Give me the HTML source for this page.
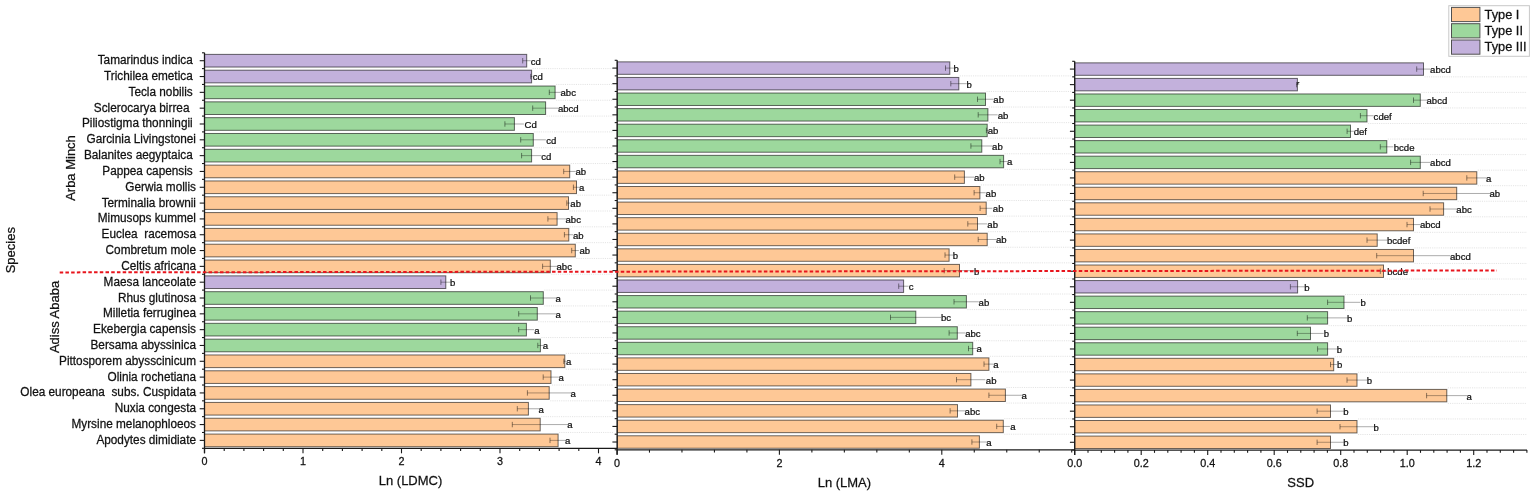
<!DOCTYPE html><html><head><meta charset="utf-8"><style>
html,body{margin:0;padding:0;background:#fff;width:1535px;height:495px;overflow:hidden}
svg{display:block}
text{font-family:"Liberation Sans",Arial,sans-serif;fill:#111;stroke:#111;stroke-width:0.25px;white-space:pre}
.sp{font-size:11.8px}.lt{font-size:9.6px}.tk{font-size:10.8px}.ti{font-size:13px}.lg{font-size:12.8px}
</style></head><body>
<svg width="1535" height="495" viewBox="0 0 1535 495">
<rect x="0" y="0" width="1535" height="495" fill="#fff"/>
<line x1="532.6" y1="68.62" x2="613.5" y2="68.62" stroke="#dcdcdc" stroke-width="0.8" stroke-dasharray="1.1 1.1"/>
<line x1="556.1" y1="84.44" x2="613.5" y2="84.44" stroke="#dcdcdc" stroke-width="0.8" stroke-dasharray="1.1 1.1"/>
<line x1="556.1" y1="100.26" x2="613.5" y2="100.26" stroke="#dcdcdc" stroke-width="0.8" stroke-dasharray="1.1 1.1"/>
<line x1="546.6" y1="116.08" x2="613.5" y2="116.08" stroke="#dcdcdc" stroke-width="0.8" stroke-dasharray="1.1 1.1"/>
<line x1="534.3" y1="131.9" x2="613.5" y2="131.9" stroke="#dcdcdc" stroke-width="0.8" stroke-dasharray="1.1 1.1"/>
<line x1="534.3" y1="147.72" x2="613.5" y2="147.72" stroke="#dcdcdc" stroke-width="0.8" stroke-dasharray="1.1 1.1"/>
<line x1="570.7" y1="163.54" x2="613.5" y2="163.54" stroke="#dcdcdc" stroke-width="0.8" stroke-dasharray="1.1 1.1"/>
<line x1="577.5" y1="179.36" x2="613.5" y2="179.36" stroke="#dcdcdc" stroke-width="0.8" stroke-dasharray="1.1 1.1"/>
<line x1="577.5" y1="195.18" x2="613.5" y2="195.18" stroke="#dcdcdc" stroke-width="0.8" stroke-dasharray="1.1 1.1"/>
<line x1="569.5" y1="211" x2="613.5" y2="211" stroke="#dcdcdc" stroke-width="0.8" stroke-dasharray="1.1 1.1"/>
<line x1="569.8" y1="226.82" x2="613.5" y2="226.82" stroke="#dcdcdc" stroke-width="0.8" stroke-dasharray="1.1 1.1"/>
<line x1="576.3" y1="242.64" x2="613.5" y2="242.64" stroke="#dcdcdc" stroke-width="0.8" stroke-dasharray="1.1 1.1"/>
<line x1="576.3" y1="258.46" x2="613.5" y2="258.46" stroke="#dcdcdc" stroke-width="0.8" stroke-dasharray="1.1 1.1"/>
<line x1="551.3" y1="274.28" x2="613.5" y2="274.28" stroke="#dcdcdc" stroke-width="0.8" stroke-dasharray="1.1 1.1"/>
<line x1="544.3" y1="290.1" x2="613.5" y2="290.1" stroke="#dcdcdc" stroke-width="0.8" stroke-dasharray="1.1 1.1"/>
<line x1="544.3" y1="305.92" x2="613.5" y2="305.92" stroke="#dcdcdc" stroke-width="0.8" stroke-dasharray="1.1 1.1"/>
<line x1="538.3" y1="321.74" x2="613.5" y2="321.74" stroke="#dcdcdc" stroke-width="0.8" stroke-dasharray="1.1 1.1"/>
<line x1="541.4" y1="337.56" x2="613.5" y2="337.56" stroke="#dcdcdc" stroke-width="0.8" stroke-dasharray="1.1 1.1"/>
<line x1="565.8" y1="353.38" x2="613.5" y2="353.38" stroke="#dcdcdc" stroke-width="0.8" stroke-dasharray="1.1 1.1"/>
<line x1="565.8" y1="369.2" x2="613.5" y2="369.2" stroke="#dcdcdc" stroke-width="0.8" stroke-dasharray="1.1 1.1"/>
<line x1="552" y1="385.02" x2="613.5" y2="385.02" stroke="#dcdcdc" stroke-width="0.8" stroke-dasharray="1.1 1.1"/>
<line x1="550.2" y1="400.84" x2="613.5" y2="400.84" stroke="#dcdcdc" stroke-width="0.8" stroke-dasharray="1.1 1.1"/>
<line x1="541.2" y1="416.66" x2="613.5" y2="416.66" stroke="#dcdcdc" stroke-width="0.8" stroke-dasharray="1.1 1.1"/>
<line x1="559.1" y1="432.48" x2="613.5" y2="432.48" stroke="#dcdcdc" stroke-width="0.8" stroke-dasharray="1.1 1.1"/>
<rect x="204.5" y="54.38" width="322.2" height="12.66" fill="#c3b1dc" stroke="rgba(0,0,0,0.58)" stroke-width="1"/>
<rect x="204.5" y="70.2" width="327.1" height="12.66" fill="#c3b1dc" stroke="rgba(0,0,0,0.58)" stroke-width="1"/>
<rect x="204.5" y="86.02" width="350.6" height="12.66" fill="#9dd89d" stroke="rgba(0,0,0,0.58)" stroke-width="1"/>
<rect x="204.5" y="101.84" width="341.1" height="12.66" fill="#9dd89d" stroke="rgba(0,0,0,0.58)" stroke-width="1"/>
<rect x="204.5" y="117.66" width="309.9" height="12.66" fill="#9dd89d" stroke="rgba(0,0,0,0.58)" stroke-width="1"/>
<rect x="204.5" y="133.48" width="328.8" height="12.66" fill="#9dd89d" stroke="rgba(0,0,0,0.58)" stroke-width="1"/>
<rect x="204.5" y="149.3" width="327.1" height="12.66" fill="#9dd89d" stroke="rgba(0,0,0,0.58)" stroke-width="1"/>
<rect x="204.5" y="165.12" width="365.2" height="12.66" fill="#fec896" stroke="rgba(0,0,0,0.58)" stroke-width="1"/>
<rect x="204.5" y="180.94" width="372" height="12.66" fill="#fec896" stroke="rgba(0,0,0,0.58)" stroke-width="1"/>
<rect x="204.5" y="196.76" width="364" height="12.66" fill="#fec896" stroke="rgba(0,0,0,0.58)" stroke-width="1"/>
<rect x="204.5" y="212.58" width="352.6" height="12.66" fill="#fec896" stroke="rgba(0,0,0,0.58)" stroke-width="1"/>
<rect x="204.5" y="228.4" width="364.3" height="12.66" fill="#fec896" stroke="rgba(0,0,0,0.58)" stroke-width="1"/>
<rect x="204.5" y="244.22" width="370.8" height="12.66" fill="#fec896" stroke="rgba(0,0,0,0.58)" stroke-width="1"/>
<rect x="204.5" y="260.04" width="345.8" height="12.66" fill="#fec896" stroke="rgba(0,0,0,0.58)" stroke-width="1"/>
<rect x="204.5" y="275.86" width="241.3" height="12.66" fill="#c3b1dc" stroke="rgba(0,0,0,0.58)" stroke-width="1"/>
<rect x="204.5" y="291.68" width="338.8" height="12.66" fill="#9dd89d" stroke="rgba(0,0,0,0.58)" stroke-width="1"/>
<rect x="204.5" y="307.5" width="332.8" height="12.66" fill="#9dd89d" stroke="rgba(0,0,0,0.58)" stroke-width="1"/>
<rect x="204.5" y="323.32" width="321.9" height="12.66" fill="#9dd89d" stroke="rgba(0,0,0,0.58)" stroke-width="1"/>
<rect x="204.5" y="339.14" width="335.9" height="12.66" fill="#9dd89d" stroke="rgba(0,0,0,0.58)" stroke-width="1"/>
<rect x="204.5" y="354.96" width="360.3" height="12.66" fill="#fec896" stroke="rgba(0,0,0,0.58)" stroke-width="1"/>
<rect x="204.5" y="370.78" width="346.5" height="12.66" fill="#fec896" stroke="rgba(0,0,0,0.58)" stroke-width="1"/>
<rect x="204.5" y="386.6" width="344.7" height="12.66" fill="#fec896" stroke="rgba(0,0,0,0.58)" stroke-width="1"/>
<rect x="204.5" y="402.42" width="323.9" height="12.66" fill="#fec896" stroke="rgba(0,0,0,0.58)" stroke-width="1"/>
<rect x="204.5" y="418.24" width="335.7" height="12.66" fill="#fec896" stroke="rgba(0,0,0,0.58)" stroke-width="1"/>
<rect x="204.5" y="434.06" width="353.6" height="12.66" fill="#fec896" stroke="rgba(0,0,0,0.58)" stroke-width="1"/>
<line x1="522.7" y1="60.71" x2="530.7" y2="60.71" stroke="rgba(0,0,0,0.33)" stroke-width="1"/>
<line x1="522.7" y1="58.01" x2="522.7" y2="63.41" stroke="rgba(0,0,0,0.45)" stroke-width="1"/>
<text class="lt" transform="translate(530.8,64.61) scale(1,0.92)">cd</text>
<line x1="530.7" y1="76.53" x2="532.5" y2="76.53" stroke="rgba(0,0,0,0.33)" stroke-width="1"/>
<line x1="530.7" y1="73.83" x2="530.7" y2="79.23" stroke="rgba(0,0,0,0.45)" stroke-width="1"/>
<text class="lt" transform="translate(532.8,80.43) scale(1,0.92)">cd</text>
<line x1="549.3" y1="92.35" x2="560.9" y2="92.35" stroke="rgba(0,0,0,0.33)" stroke-width="1"/>
<line x1="549.3" y1="89.65" x2="549.3" y2="95.05" stroke="rgba(0,0,0,0.45)" stroke-width="1"/>
<text class="lt" transform="translate(560.5,96.25) scale(1,0.92)">abc</text>
<line x1="532.7" y1="108.17" x2="558.5" y2="108.17" stroke="rgba(0,0,0,0.33)" stroke-width="1"/>
<line x1="532.7" y1="105.47" x2="532.7" y2="110.87" stroke="rgba(0,0,0,0.45)" stroke-width="1"/>
<text class="lt" transform="translate(557.9,112.07) scale(1,0.92)">abcd</text>
<line x1="504.9" y1="123.99" x2="523.9" y2="123.99" stroke="rgba(0,0,0,0.33)" stroke-width="1"/>
<line x1="504.9" y1="121.29" x2="504.9" y2="126.69" stroke="rgba(0,0,0,0.45)" stroke-width="1"/>
<text class="lt" transform="translate(524.5,127.89) scale(1,0.92)">Cd</text>
<line x1="520.7" y1="139.81" x2="545.9" y2="139.81" stroke="rgba(0,0,0,0.33)" stroke-width="1"/>
<line x1="520.7" y1="137.11" x2="520.7" y2="142.51" stroke="rgba(0,0,0,0.45)" stroke-width="1"/>
<text class="lt" transform="translate(546.3,143.71) scale(1,0.92)">cd</text>
<line x1="521.6" y1="155.63" x2="541.6" y2="155.63" stroke="rgba(0,0,0,0.33)" stroke-width="1"/>
<line x1="521.6" y1="152.93" x2="521.6" y2="158.33" stroke="rgba(0,0,0,0.45)" stroke-width="1"/>
<text class="lt" transform="translate(541.2,159.53) scale(1,0.92)">cd</text>
<line x1="563.7" y1="171.45" x2="575.7" y2="171.45" stroke="rgba(0,0,0,0.33)" stroke-width="1"/>
<line x1="563.7" y1="168.75" x2="563.7" y2="174.15" stroke="rgba(0,0,0,0.45)" stroke-width="1"/>
<text class="lt" transform="translate(575.4,175.35) scale(1,0.92)">ab</text>
<line x1="573.4" y1="187.27" x2="579.6" y2="187.27" stroke="rgba(0,0,0,0.33)" stroke-width="1"/>
<line x1="573.4" y1="184.57" x2="573.4" y2="189.97" stroke="rgba(0,0,0,0.45)" stroke-width="1"/>
<text class="lt" transform="translate(579.1,191.17) scale(1,0.92)">a</text>
<line x1="566.8" y1="203.09" x2="570.2" y2="203.09" stroke="rgba(0,0,0,0.33)" stroke-width="1"/>
<line x1="566.8" y1="200.39" x2="566.8" y2="205.79" stroke="rgba(0,0,0,0.45)" stroke-width="1"/>
<text class="lt" transform="translate(570.3,206.99) scale(1,0.92)">ab</text>
<line x1="547.9" y1="218.91" x2="566.3" y2="218.91" stroke="rgba(0,0,0,0.33)" stroke-width="1"/>
<line x1="547.9" y1="216.21" x2="547.9" y2="221.61" stroke="rgba(0,0,0,0.45)" stroke-width="1"/>
<text class="lt" transform="translate(565.5,222.81) scale(1,0.92)">abc</text>
<line x1="564.4" y1="234.73" x2="573.2" y2="234.73" stroke="rgba(0,0,0,0.33)" stroke-width="1"/>
<line x1="564.4" y1="232.03" x2="564.4" y2="237.43" stroke="rgba(0,0,0,0.45)" stroke-width="1"/>
<text class="lt" transform="translate(573,238.63) scale(1,0.92)">ab</text>
<line x1="571.7" y1="250.55" x2="578.9" y2="250.55" stroke="rgba(0,0,0,0.33)" stroke-width="1"/>
<line x1="571.7" y1="247.85" x2="571.7" y2="253.25" stroke="rgba(0,0,0,0.45)" stroke-width="1"/>
<text class="lt" transform="translate(579.5,254.45) scale(1,0.92)">ab</text>
<line x1="542.6" y1="266.37" x2="558" y2="266.37" stroke="rgba(0,0,0,0.33)" stroke-width="1"/>
<line x1="542.6" y1="263.67" x2="542.6" y2="269.07" stroke="rgba(0,0,0,0.45)" stroke-width="1"/>
<text class="lt" transform="translate(556.5,270.27) scale(1,0.92)">abc</text>
<line x1="440.9" y1="282.19" x2="450.7" y2="282.19" stroke="rgba(0,0,0,0.33)" stroke-width="1"/>
<line x1="440.9" y1="279.49" x2="440.9" y2="284.89" stroke="rgba(0,0,0,0.45)" stroke-width="1"/>
<text class="lt" transform="translate(450.1,286.09) scale(1,0.92)">b</text>
<line x1="530.5" y1="298.01" x2="556.1" y2="298.01" stroke="rgba(0,0,0,0.33)" stroke-width="1"/>
<line x1="530.5" y1="295.31" x2="530.5" y2="300.71" stroke="rgba(0,0,0,0.45)" stroke-width="1"/>
<text class="lt" transform="translate(555.6,301.91) scale(1,0.92)">a</text>
<line x1="518.7" y1="313.83" x2="555.9" y2="313.83" stroke="rgba(0,0,0,0.33)" stroke-width="1"/>
<line x1="518.7" y1="311.13" x2="518.7" y2="316.53" stroke="rgba(0,0,0,0.45)" stroke-width="1"/>
<text class="lt" transform="translate(555.6,317.73) scale(1,0.92)">a</text>
<line x1="518.7" y1="329.65" x2="534.1" y2="329.65" stroke="rgba(0,0,0,0.33)" stroke-width="1"/>
<line x1="518.7" y1="326.95" x2="518.7" y2="332.35" stroke="rgba(0,0,0,0.45)" stroke-width="1"/>
<text class="lt" transform="translate(534.3,333.55) scale(1,0.92)">a</text>
<line x1="537.8" y1="345.47" x2="543" y2="345.47" stroke="rgba(0,0,0,0.33)" stroke-width="1"/>
<line x1="537.8" y1="342.77" x2="537.8" y2="348.17" stroke="rgba(0,0,0,0.45)" stroke-width="1"/>
<text class="lt" transform="translate(542.8,349.37) scale(1,0.92)">a</text>
<line x1="563.8" y1="361.29" x2="565.8" y2="361.29" stroke="rgba(0,0,0,0.33)" stroke-width="1"/>
<line x1="563.8" y1="358.59" x2="563.8" y2="363.99" stroke="rgba(0,0,0,0.45)" stroke-width="1"/>
<text class="lt" transform="translate(565.9,365.19) scale(1,0.92)">a</text>
<line x1="543.2" y1="377.11" x2="558.8" y2="377.11" stroke="rgba(0,0,0,0.33)" stroke-width="1"/>
<line x1="543.2" y1="374.41" x2="543.2" y2="379.81" stroke="rgba(0,0,0,0.45)" stroke-width="1"/>
<text class="lt" transform="translate(558.4,381.01) scale(1,0.92)">a</text>
<line x1="527.4" y1="392.93" x2="571" y2="392.93" stroke="rgba(0,0,0,0.33)" stroke-width="1"/>
<line x1="527.4" y1="390.23" x2="527.4" y2="395.63" stroke="rgba(0,0,0,0.45)" stroke-width="1"/>
<text class="lt" transform="translate(570.5,396.83) scale(1,0.92)">a</text>
<line x1="517.3" y1="408.75" x2="539.5" y2="408.75" stroke="rgba(0,0,0,0.33)" stroke-width="1"/>
<line x1="517.3" y1="406.05" x2="517.3" y2="411.45" stroke="rgba(0,0,0,0.45)" stroke-width="1"/>
<text class="lt" transform="translate(538.6,412.65) scale(1,0.92)">a</text>
<line x1="512.3" y1="424.57" x2="568.1" y2="424.57" stroke="rgba(0,0,0,0.33)" stroke-width="1"/>
<line x1="512.3" y1="421.87" x2="512.3" y2="427.27" stroke="rgba(0,0,0,0.45)" stroke-width="1"/>
<text class="lt" transform="translate(567.3,428.47) scale(1,0.92)">a</text>
<line x1="550" y1="440.39" x2="566.2" y2="440.39" stroke="rgba(0,0,0,0.33)" stroke-width="1"/>
<line x1="550" y1="437.69" x2="550" y2="443.09" stroke="rgba(0,0,0,0.45)" stroke-width="1"/>
<text class="lt" transform="translate(564.9,444.29) scale(1,0.92)">a</text>
<line x1="204.5" y1="52.8" x2="204.5" y2="453.3" stroke="#1a1a1a" stroke-width="1.3"/>
<line x1="202" y1="52.8" x2="204.5" y2="52.8" stroke="#1a1a1a" stroke-width="1.1"/>
<line x1="202" y1="68.62" x2="204.5" y2="68.62" stroke="#1a1a1a" stroke-width="1.1"/>
<line x1="202" y1="84.44" x2="204.5" y2="84.44" stroke="#1a1a1a" stroke-width="1.1"/>
<line x1="202" y1="100.26" x2="204.5" y2="100.26" stroke="#1a1a1a" stroke-width="1.1"/>
<line x1="202" y1="116.08" x2="204.5" y2="116.08" stroke="#1a1a1a" stroke-width="1.1"/>
<line x1="202" y1="131.9" x2="204.5" y2="131.9" stroke="#1a1a1a" stroke-width="1.1"/>
<line x1="202" y1="147.72" x2="204.5" y2="147.72" stroke="#1a1a1a" stroke-width="1.1"/>
<line x1="202" y1="163.54" x2="204.5" y2="163.54" stroke="#1a1a1a" stroke-width="1.1"/>
<line x1="202" y1="179.36" x2="204.5" y2="179.36" stroke="#1a1a1a" stroke-width="1.1"/>
<line x1="202" y1="195.18" x2="204.5" y2="195.18" stroke="#1a1a1a" stroke-width="1.1"/>
<line x1="202" y1="211" x2="204.5" y2="211" stroke="#1a1a1a" stroke-width="1.1"/>
<line x1="202" y1="226.82" x2="204.5" y2="226.82" stroke="#1a1a1a" stroke-width="1.1"/>
<line x1="202" y1="242.64" x2="204.5" y2="242.64" stroke="#1a1a1a" stroke-width="1.1"/>
<line x1="202" y1="258.46" x2="204.5" y2="258.46" stroke="#1a1a1a" stroke-width="1.1"/>
<line x1="202" y1="274.28" x2="204.5" y2="274.28" stroke="#1a1a1a" stroke-width="1.1"/>
<line x1="202" y1="290.1" x2="204.5" y2="290.1" stroke="#1a1a1a" stroke-width="1.1"/>
<line x1="202" y1="305.92" x2="204.5" y2="305.92" stroke="#1a1a1a" stroke-width="1.1"/>
<line x1="202" y1="321.74" x2="204.5" y2="321.74" stroke="#1a1a1a" stroke-width="1.1"/>
<line x1="202" y1="337.56" x2="204.5" y2="337.56" stroke="#1a1a1a" stroke-width="1.1"/>
<line x1="202" y1="353.38" x2="204.5" y2="353.38" stroke="#1a1a1a" stroke-width="1.1"/>
<line x1="202" y1="369.2" x2="204.5" y2="369.2" stroke="#1a1a1a" stroke-width="1.1"/>
<line x1="202" y1="385.02" x2="204.5" y2="385.02" stroke="#1a1a1a" stroke-width="1.1"/>
<line x1="202" y1="400.84" x2="204.5" y2="400.84" stroke="#1a1a1a" stroke-width="1.1"/>
<line x1="202" y1="416.66" x2="204.5" y2="416.66" stroke="#1a1a1a" stroke-width="1.1"/>
<line x1="202" y1="432.48" x2="204.5" y2="432.48" stroke="#1a1a1a" stroke-width="1.1"/>
<line x1="202" y1="448.3" x2="204.5" y2="448.3" stroke="#1a1a1a" stroke-width="1.1"/>
<line x1="199.7" y1="60.71" x2="204.5" y2="60.71" stroke="#1a1a1a" stroke-width="1.1"/>
<line x1="199.7" y1="76.53" x2="204.5" y2="76.53" stroke="#1a1a1a" stroke-width="1.1"/>
<line x1="199.7" y1="92.35" x2="204.5" y2="92.35" stroke="#1a1a1a" stroke-width="1.1"/>
<line x1="199.7" y1="108.17" x2="204.5" y2="108.17" stroke="#1a1a1a" stroke-width="1.1"/>
<line x1="199.7" y1="123.99" x2="204.5" y2="123.99" stroke="#1a1a1a" stroke-width="1.1"/>
<line x1="199.7" y1="139.81" x2="204.5" y2="139.81" stroke="#1a1a1a" stroke-width="1.1"/>
<line x1="199.7" y1="155.63" x2="204.5" y2="155.63" stroke="#1a1a1a" stroke-width="1.1"/>
<line x1="199.7" y1="171.45" x2="204.5" y2="171.45" stroke="#1a1a1a" stroke-width="1.1"/>
<line x1="199.7" y1="187.27" x2="204.5" y2="187.27" stroke="#1a1a1a" stroke-width="1.1"/>
<line x1="199.7" y1="203.09" x2="204.5" y2="203.09" stroke="#1a1a1a" stroke-width="1.1"/>
<line x1="199.7" y1="218.91" x2="204.5" y2="218.91" stroke="#1a1a1a" stroke-width="1.1"/>
<line x1="199.7" y1="234.73" x2="204.5" y2="234.73" stroke="#1a1a1a" stroke-width="1.1"/>
<line x1="199.7" y1="250.55" x2="204.5" y2="250.55" stroke="#1a1a1a" stroke-width="1.1"/>
<line x1="199.7" y1="266.37" x2="204.5" y2="266.37" stroke="#1a1a1a" stroke-width="1.1"/>
<line x1="199.7" y1="282.19" x2="204.5" y2="282.19" stroke="#1a1a1a" stroke-width="1.1"/>
<line x1="199.7" y1="298.01" x2="204.5" y2="298.01" stroke="#1a1a1a" stroke-width="1.1"/>
<line x1="199.7" y1="313.83" x2="204.5" y2="313.83" stroke="#1a1a1a" stroke-width="1.1"/>
<line x1="199.7" y1="329.65" x2="204.5" y2="329.65" stroke="#1a1a1a" stroke-width="1.1"/>
<line x1="199.7" y1="345.47" x2="204.5" y2="345.47" stroke="#1a1a1a" stroke-width="1.1"/>
<line x1="199.7" y1="361.29" x2="204.5" y2="361.29" stroke="#1a1a1a" stroke-width="1.1"/>
<line x1="199.7" y1="377.11" x2="204.5" y2="377.11" stroke="#1a1a1a" stroke-width="1.1"/>
<line x1="199.7" y1="392.93" x2="204.5" y2="392.93" stroke="#1a1a1a" stroke-width="1.1"/>
<line x1="199.7" y1="408.75" x2="204.5" y2="408.75" stroke="#1a1a1a" stroke-width="1.1"/>
<line x1="199.7" y1="424.57" x2="204.5" y2="424.57" stroke="#1a1a1a" stroke-width="1.1"/>
<line x1="199.7" y1="440.39" x2="204.5" y2="440.39" stroke="#1a1a1a" stroke-width="1.1"/>
<line x1="204.5" y1="448.3" x2="617" y2="448.3" stroke="#1a1a1a" stroke-width="1.3"/>
<line x1="204.5" y1="448.3" x2="204.5" y2="453.3" stroke="#1a1a1a" stroke-width="1.1"/>
<text class="tk" transform="translate(204.5,465.1) scale(1,1.038)" text-anchor="middle">0</text>
<line x1="303" y1="448.3" x2="303" y2="453.3" stroke="#1a1a1a" stroke-width="1.1"/>
<text class="tk" transform="translate(303,465.1) scale(1,1.038)" text-anchor="middle">1</text>
<line x1="401.5" y1="448.3" x2="401.5" y2="453.3" stroke="#1a1a1a" stroke-width="1.1"/>
<text class="tk" transform="translate(401.5,465.1) scale(1,1.038)" text-anchor="middle">2</text>
<line x1="500" y1="448.3" x2="500" y2="453.3" stroke="#1a1a1a" stroke-width="1.1"/>
<text class="tk" transform="translate(500,465.1) scale(1,1.038)" text-anchor="middle">3</text>
<line x1="598.5" y1="448.3" x2="598.5" y2="453.3" stroke="#1a1a1a" stroke-width="1.1"/>
<text class="tk" transform="translate(598.5,465.1) scale(1,1.038)" text-anchor="middle">4</text>
<line x1="224.2" y1="448.3" x2="224.2" y2="451.1" stroke="#1a1a1a" stroke-width="1.1"/>
<line x1="243.9" y1="448.3" x2="243.9" y2="451.1" stroke="#1a1a1a" stroke-width="1.1"/>
<line x1="263.6" y1="448.3" x2="263.6" y2="451.1" stroke="#1a1a1a" stroke-width="1.1"/>
<line x1="283.3" y1="448.3" x2="283.3" y2="451.1" stroke="#1a1a1a" stroke-width="1.1"/>
<line x1="322.7" y1="448.3" x2="322.7" y2="451.1" stroke="#1a1a1a" stroke-width="1.1"/>
<line x1="342.4" y1="448.3" x2="342.4" y2="451.1" stroke="#1a1a1a" stroke-width="1.1"/>
<line x1="362.1" y1="448.3" x2="362.1" y2="451.1" stroke="#1a1a1a" stroke-width="1.1"/>
<line x1="381.8" y1="448.3" x2="381.8" y2="451.1" stroke="#1a1a1a" stroke-width="1.1"/>
<line x1="421.2" y1="448.3" x2="421.2" y2="451.1" stroke="#1a1a1a" stroke-width="1.1"/>
<line x1="440.9" y1="448.3" x2="440.9" y2="451.1" stroke="#1a1a1a" stroke-width="1.1"/>
<line x1="460.6" y1="448.3" x2="460.6" y2="451.1" stroke="#1a1a1a" stroke-width="1.1"/>
<line x1="480.3" y1="448.3" x2="480.3" y2="451.1" stroke="#1a1a1a" stroke-width="1.1"/>
<line x1="519.7" y1="448.3" x2="519.7" y2="451.1" stroke="#1a1a1a" stroke-width="1.1"/>
<line x1="539.4" y1="448.3" x2="539.4" y2="451.1" stroke="#1a1a1a" stroke-width="1.1"/>
<line x1="559.1" y1="448.3" x2="559.1" y2="451.1" stroke="#1a1a1a" stroke-width="1.1"/>
<line x1="578.8" y1="448.3" x2="578.8" y2="451.1" stroke="#1a1a1a" stroke-width="1.1"/>
<text class="ti" transform="translate(410.5,485) scale(1,1.038)" text-anchor="middle">Ln (LDMC)</text>
<line x1="959.8" y1="75.88" x2="1072" y2="75.88" stroke="#dcdcdc" stroke-width="0.8" stroke-dasharray="1.1 1.1"/>
<line x1="986.5" y1="91.46" x2="1072" y2="91.46" stroke="#dcdcdc" stroke-width="0.8" stroke-dasharray="1.1 1.1"/>
<line x1="988.9" y1="107.04" x2="1072" y2="107.04" stroke="#dcdcdc" stroke-width="0.8" stroke-dasharray="1.1 1.1"/>
<line x1="988.9" y1="122.62" x2="1072" y2="122.62" stroke="#dcdcdc" stroke-width="0.8" stroke-dasharray="1.1 1.1"/>
<line x1="988.2" y1="138.2" x2="1072" y2="138.2" stroke="#dcdcdc" stroke-width="0.8" stroke-dasharray="1.1 1.1"/>
<line x1="1004.6" y1="153.78" x2="1072" y2="153.78" stroke="#dcdcdc" stroke-width="0.8" stroke-dasharray="1.1 1.1"/>
<line x1="1004.6" y1="169.36" x2="1072" y2="169.36" stroke="#dcdcdc" stroke-width="0.8" stroke-dasharray="1.1 1.1"/>
<line x1="980.9" y1="184.94" x2="1072" y2="184.94" stroke="#dcdcdc" stroke-width="0.8" stroke-dasharray="1.1 1.1"/>
<line x1="987.2" y1="200.52" x2="1072" y2="200.52" stroke="#dcdcdc" stroke-width="0.8" stroke-dasharray="1.1 1.1"/>
<line x1="987.2" y1="216.1" x2="1072" y2="216.1" stroke="#dcdcdc" stroke-width="0.8" stroke-dasharray="1.1 1.1"/>
<line x1="988.2" y1="231.68" x2="1072" y2="231.68" stroke="#dcdcdc" stroke-width="0.8" stroke-dasharray="1.1 1.1"/>
<line x1="988.2" y1="247.26" x2="1072" y2="247.26" stroke="#dcdcdc" stroke-width="0.8" stroke-dasharray="1.1 1.1"/>
<line x1="960.5" y1="262.84" x2="1072" y2="262.84" stroke="#dcdcdc" stroke-width="0.8" stroke-dasharray="1.1 1.1"/>
<line x1="960.5" y1="278.42" x2="1072" y2="278.42" stroke="#dcdcdc" stroke-width="0.8" stroke-dasharray="1.1 1.1"/>
<line x1="967.4" y1="294" x2="1072" y2="294" stroke="#dcdcdc" stroke-width="0.8" stroke-dasharray="1.1 1.1"/>
<line x1="967.4" y1="309.58" x2="1072" y2="309.58" stroke="#dcdcdc" stroke-width="0.8" stroke-dasharray="1.1 1.1"/>
<line x1="958.3" y1="325.16" x2="1072" y2="325.16" stroke="#dcdcdc" stroke-width="0.8" stroke-dasharray="1.1 1.1"/>
<line x1="973.7" y1="340.74" x2="1072" y2="340.74" stroke="#dcdcdc" stroke-width="0.8" stroke-dasharray="1.1 1.1"/>
<line x1="989.9" y1="356.32" x2="1072" y2="356.32" stroke="#dcdcdc" stroke-width="0.8" stroke-dasharray="1.1 1.1"/>
<line x1="989.9" y1="371.9" x2="1072" y2="371.9" stroke="#dcdcdc" stroke-width="0.8" stroke-dasharray="1.1 1.1"/>
<line x1="1006.4" y1="387.48" x2="1072" y2="387.48" stroke="#dcdcdc" stroke-width="0.8" stroke-dasharray="1.1 1.1"/>
<line x1="1006.4" y1="403.06" x2="1072" y2="403.06" stroke="#dcdcdc" stroke-width="0.8" stroke-dasharray="1.1 1.1"/>
<line x1="1004.3" y1="418.64" x2="1072" y2="418.64" stroke="#dcdcdc" stroke-width="0.8" stroke-dasharray="1.1 1.1"/>
<line x1="1004.3" y1="434.22" x2="1072" y2="434.22" stroke="#dcdcdc" stroke-width="0.8" stroke-dasharray="1.1 1.1"/>
<rect x="617.2" y="61.86" width="332.6" height="12.46" fill="#c3b1dc" stroke="rgba(0,0,0,0.58)" stroke-width="1"/>
<rect x="617.2" y="77.44" width="341.6" height="12.46" fill="#c3b1dc" stroke="rgba(0,0,0,0.58)" stroke-width="1"/>
<rect x="617.2" y="93.02" width="368.3" height="12.46" fill="#9dd89d" stroke="rgba(0,0,0,0.58)" stroke-width="1"/>
<rect x="617.2" y="108.6" width="370.7" height="12.46" fill="#9dd89d" stroke="rgba(0,0,0,0.58)" stroke-width="1"/>
<rect x="617.2" y="124.18" width="370" height="12.46" fill="#9dd89d" stroke="rgba(0,0,0,0.58)" stroke-width="1"/>
<rect x="617.2" y="139.76" width="364.6" height="12.46" fill="#9dd89d" stroke="rgba(0,0,0,0.58)" stroke-width="1"/>
<rect x="617.2" y="155.34" width="386.4" height="12.46" fill="#9dd89d" stroke="rgba(0,0,0,0.58)" stroke-width="1"/>
<rect x="617.2" y="170.92" width="347.2" height="12.46" fill="#fec896" stroke="rgba(0,0,0,0.58)" stroke-width="1"/>
<rect x="617.2" y="186.5" width="362.7" height="12.46" fill="#fec896" stroke="rgba(0,0,0,0.58)" stroke-width="1"/>
<rect x="617.2" y="202.08" width="369" height="12.46" fill="#fec896" stroke="rgba(0,0,0,0.58)" stroke-width="1"/>
<rect x="617.2" y="217.66" width="360.3" height="12.46" fill="#fec896" stroke="rgba(0,0,0,0.58)" stroke-width="1"/>
<rect x="617.2" y="233.24" width="370" height="12.46" fill="#fec896" stroke="rgba(0,0,0,0.58)" stroke-width="1"/>
<rect x="617.2" y="248.82" width="331.9" height="12.46" fill="#fec896" stroke="rgba(0,0,0,0.58)" stroke-width="1"/>
<rect x="617.2" y="264.4" width="342.3" height="12.46" fill="#fec896" stroke="rgba(0,0,0,0.58)" stroke-width="1"/>
<rect x="617.2" y="279.98" width="286.4" height="12.46" fill="#c3b1dc" stroke="rgba(0,0,0,0.58)" stroke-width="1"/>
<rect x="617.2" y="295.56" width="349.2" height="12.46" fill="#9dd89d" stroke="rgba(0,0,0,0.58)" stroke-width="1"/>
<rect x="617.2" y="311.14" width="298.6" height="12.46" fill="#9dd89d" stroke="rgba(0,0,0,0.58)" stroke-width="1"/>
<rect x="617.2" y="326.72" width="340.1" height="12.46" fill="#9dd89d" stroke="rgba(0,0,0,0.58)" stroke-width="1"/>
<rect x="617.2" y="342.3" width="355.5" height="12.46" fill="#9dd89d" stroke="rgba(0,0,0,0.58)" stroke-width="1"/>
<rect x="617.2" y="357.88" width="371.7" height="12.46" fill="#fec896" stroke="rgba(0,0,0,0.58)" stroke-width="1"/>
<rect x="617.2" y="373.46" width="353.7" height="12.46" fill="#fec896" stroke="rgba(0,0,0,0.58)" stroke-width="1"/>
<rect x="617.2" y="389.04" width="388.2" height="12.46" fill="#fec896" stroke="rgba(0,0,0,0.58)" stroke-width="1"/>
<rect x="617.2" y="404.62" width="340.3" height="12.46" fill="#fec896" stroke="rgba(0,0,0,0.58)" stroke-width="1"/>
<rect x="617.2" y="420.2" width="386.1" height="12.46" fill="#fec896" stroke="rgba(0,0,0,0.58)" stroke-width="1"/>
<rect x="617.2" y="435.78" width="362.2" height="12.46" fill="#fec896" stroke="rgba(0,0,0,0.58)" stroke-width="1"/>
<line x1="945.5" y1="68.09" x2="954.1" y2="68.09" stroke="rgba(0,0,0,0.33)" stroke-width="1"/>
<line x1="945.5" y1="65.39" x2="945.5" y2="70.79" stroke="rgba(0,0,0,0.45)" stroke-width="1"/>
<text class="lt" transform="translate(953.6,71.99) scale(1,0.92)">b</text>
<line x1="950.8" y1="83.67" x2="966.8" y2="83.67" stroke="rgba(0,0,0,0.33)" stroke-width="1"/>
<line x1="950.8" y1="80.97" x2="950.8" y2="86.37" stroke="rgba(0,0,0,0.45)" stroke-width="1"/>
<text class="lt" transform="translate(966.6,87.57) scale(1,0.92)">b</text>
<line x1="977.5" y1="99.25" x2="993.5" y2="99.25" stroke="rgba(0,0,0,0.33)" stroke-width="1"/>
<line x1="977.5" y1="96.55" x2="977.5" y2="101.95" stroke="rgba(0,0,0,0.45)" stroke-width="1"/>
<text class="lt" transform="translate(993.3,103.15) scale(1,0.92)">ab</text>
<line x1="978.2" y1="114.83" x2="997.6" y2="114.83" stroke="rgba(0,0,0,0.33)" stroke-width="1"/>
<line x1="978.2" y1="112.13" x2="978.2" y2="117.53" stroke="rgba(0,0,0,0.45)" stroke-width="1"/>
<text class="lt" transform="translate(997.7,118.73) scale(1,0.92)">ab</text>
<line x1="986.4" y1="130.41" x2="988" y2="130.41" stroke="rgba(0,0,0,0.33)" stroke-width="1"/>
<line x1="986.4" y1="127.71" x2="986.4" y2="133.11" stroke="rgba(0,0,0,0.45)" stroke-width="1"/>
<text class="lt" transform="translate(987.7,134.31) scale(1,0.92)">ab</text>
<line x1="970.9" y1="145.99" x2="992.7" y2="145.99" stroke="rgba(0,0,0,0.33)" stroke-width="1"/>
<line x1="970.9" y1="143.29" x2="970.9" y2="148.69" stroke="rgba(0,0,0,0.45)" stroke-width="1"/>
<text class="lt" transform="translate(992.1,149.89) scale(1,0.92)">ab</text>
<line x1="1000" y1="161.57" x2="1007.2" y2="161.57" stroke="rgba(0,0,0,0.33)" stroke-width="1"/>
<line x1="1000" y1="158.87" x2="1000" y2="164.27" stroke="rgba(0,0,0,0.45)" stroke-width="1"/>
<text class="lt" transform="translate(1006.9,165.47) scale(1,0.92)">a</text>
<line x1="954.7" y1="177.15" x2="974.1" y2="177.15" stroke="rgba(0,0,0,0.33)" stroke-width="1"/>
<line x1="954.7" y1="174.45" x2="954.7" y2="179.85" stroke="rgba(0,0,0,0.45)" stroke-width="1"/>
<text class="lt" transform="translate(973.9,181.05) scale(1,0.92)">ab</text>
<line x1="974.1" y1="192.73" x2="985.7" y2="192.73" stroke="rgba(0,0,0,0.33)" stroke-width="1"/>
<line x1="974.1" y1="190.03" x2="974.1" y2="195.43" stroke="rgba(0,0,0,0.45)" stroke-width="1"/>
<text class="lt" transform="translate(985.6,196.63) scale(1,0.92)">ab</text>
<line x1="980.1" y1="208.31" x2="992.3" y2="208.31" stroke="rgba(0,0,0,0.33)" stroke-width="1"/>
<line x1="980.1" y1="205.61" x2="980.1" y2="211.01" stroke="rgba(0,0,0,0.45)" stroke-width="1"/>
<text class="lt" transform="translate(992.8,212.21) scale(1,0.92)">ab</text>
<line x1="967.8" y1="223.89" x2="987.2" y2="223.89" stroke="rgba(0,0,0,0.33)" stroke-width="1"/>
<line x1="967.8" y1="221.19" x2="967.8" y2="226.59" stroke="rgba(0,0,0,0.45)" stroke-width="1"/>
<text class="lt" transform="translate(987.3,227.79) scale(1,0.92)">ab</text>
<line x1="978.2" y1="239.47" x2="996.2" y2="239.47" stroke="rgba(0,0,0,0.33)" stroke-width="1"/>
<line x1="978.2" y1="236.77" x2="978.2" y2="242.17" stroke="rgba(0,0,0,0.45)" stroke-width="1"/>
<text class="lt" transform="translate(996,243.37) scale(1,0.92)">ab</text>
<line x1="945" y1="255.05" x2="953.2" y2="255.05" stroke="rgba(0,0,0,0.33)" stroke-width="1"/>
<line x1="945" y1="252.35" x2="945" y2="257.75" stroke="rgba(0,0,0,0.45)" stroke-width="1"/>
<text class="lt" transform="translate(952.8,258.95) scale(1,0.92)">b</text>
<line x1="944.2" y1="270.63" x2="974.8" y2="270.63" stroke="rgba(0,0,0,0.33)" stroke-width="1"/>
<line x1="944.2" y1="267.93" x2="944.2" y2="273.33" stroke="rgba(0,0,0,0.45)" stroke-width="1"/>
<text class="lt" transform="translate(973.9,274.53) scale(1,0.92)">b</text>
<line x1="898.7" y1="286.21" x2="908.5" y2="286.21" stroke="rgba(0,0,0,0.33)" stroke-width="1"/>
<line x1="898.7" y1="283.51" x2="898.7" y2="288.91" stroke="rgba(0,0,0,0.45)" stroke-width="1"/>
<text class="lt" transform="translate(908.8,290.11) scale(1,0.92)">c</text>
<line x1="954" y1="301.79" x2="978.8" y2="301.79" stroke="rgba(0,0,0,0.33)" stroke-width="1"/>
<line x1="954" y1="299.09" x2="954" y2="304.49" stroke="rgba(0,0,0,0.45)" stroke-width="1"/>
<text class="lt" transform="translate(978.6,305.69) scale(1,0.92)">ab</text>
<line x1="890.5" y1="317.37" x2="941.1" y2="317.37" stroke="rgba(0,0,0,0.33)" stroke-width="1"/>
<line x1="890.5" y1="314.67" x2="890.5" y2="320.07" stroke="rgba(0,0,0,0.45)" stroke-width="1"/>
<text class="lt" transform="translate(941,321.27) scale(1,0.92)">bc</text>
<line x1="949.1" y1="332.95" x2="965.5" y2="332.95" stroke="rgba(0,0,0,0.33)" stroke-width="1"/>
<line x1="949.1" y1="330.25" x2="949.1" y2="335.65" stroke="rgba(0,0,0,0.45)" stroke-width="1"/>
<text class="lt" transform="translate(965.2,336.85) scale(1,0.92)">abc</text>
<line x1="968.5" y1="348.53" x2="976.9" y2="348.53" stroke="rgba(0,0,0,0.33)" stroke-width="1"/>
<line x1="968.5" y1="345.83" x2="968.5" y2="351.23" stroke="rgba(0,0,0,0.45)" stroke-width="1"/>
<text class="lt" transform="translate(976.5,352.43) scale(1,0.92)">a</text>
<line x1="984" y1="364.11" x2="993.8" y2="364.11" stroke="rgba(0,0,0,0.33)" stroke-width="1"/>
<line x1="984" y1="361.41" x2="984" y2="366.81" stroke="rgba(0,0,0,0.45)" stroke-width="1"/>
<text class="lt" transform="translate(993.2,368.01) scale(1,0.92)">a</text>
<line x1="956.5" y1="379.69" x2="985.3" y2="379.69" stroke="rgba(0,0,0,0.33)" stroke-width="1"/>
<line x1="956.5" y1="376.99" x2="956.5" y2="382.39" stroke="rgba(0,0,0,0.45)" stroke-width="1"/>
<text class="lt" transform="translate(985.8,383.59) scale(1,0.92)">ab</text>
<line x1="988.9" y1="395.27" x2="1021.9" y2="395.27" stroke="rgba(0,0,0,0.33)" stroke-width="1"/>
<line x1="988.9" y1="392.57" x2="988.9" y2="397.97" stroke="rgba(0,0,0,0.45)" stroke-width="1"/>
<text class="lt" transform="translate(1021.4,399.17) scale(1,0.92)">a</text>
<line x1="950.1" y1="410.85" x2="964.9" y2="410.85" stroke="rgba(0,0,0,0.33)" stroke-width="1"/>
<line x1="950.1" y1="408.15" x2="950.1" y2="413.55" stroke="rgba(0,0,0,0.45)" stroke-width="1"/>
<text class="lt" transform="translate(964.6,414.75) scale(1,0.92)">abc</text>
<line x1="996.7" y1="426.43" x2="1009.9" y2="426.43" stroke="rgba(0,0,0,0.33)" stroke-width="1"/>
<line x1="996.7" y1="423.73" x2="996.7" y2="429.13" stroke="rgba(0,0,0,0.45)" stroke-width="1"/>
<text class="lt" transform="translate(1010.2,430.33) scale(1,0.92)">a</text>
<line x1="971.9" y1="442.01" x2="986.9" y2="442.01" stroke="rgba(0,0,0,0.33)" stroke-width="1"/>
<line x1="971.9" y1="439.31" x2="971.9" y2="444.71" stroke="rgba(0,0,0,0.45)" stroke-width="1"/>
<text class="lt" transform="translate(986.2,445.91) scale(1,0.92)">a</text>
<line x1="617.2" y1="60.3" x2="617.2" y2="454.8" stroke="#1a1a1a" stroke-width="1.3"/>
<line x1="614.7" y1="60.3" x2="617.2" y2="60.3" stroke="#1a1a1a" stroke-width="1.1"/>
<line x1="614.7" y1="75.88" x2="617.2" y2="75.88" stroke="#1a1a1a" stroke-width="1.1"/>
<line x1="614.7" y1="91.46" x2="617.2" y2="91.46" stroke="#1a1a1a" stroke-width="1.1"/>
<line x1="614.7" y1="107.04" x2="617.2" y2="107.04" stroke="#1a1a1a" stroke-width="1.1"/>
<line x1="614.7" y1="122.62" x2="617.2" y2="122.62" stroke="#1a1a1a" stroke-width="1.1"/>
<line x1="614.7" y1="138.2" x2="617.2" y2="138.2" stroke="#1a1a1a" stroke-width="1.1"/>
<line x1="614.7" y1="153.78" x2="617.2" y2="153.78" stroke="#1a1a1a" stroke-width="1.1"/>
<line x1="614.7" y1="169.36" x2="617.2" y2="169.36" stroke="#1a1a1a" stroke-width="1.1"/>
<line x1="614.7" y1="184.94" x2="617.2" y2="184.94" stroke="#1a1a1a" stroke-width="1.1"/>
<line x1="614.7" y1="200.52" x2="617.2" y2="200.52" stroke="#1a1a1a" stroke-width="1.1"/>
<line x1="614.7" y1="216.1" x2="617.2" y2="216.1" stroke="#1a1a1a" stroke-width="1.1"/>
<line x1="614.7" y1="231.68" x2="617.2" y2="231.68" stroke="#1a1a1a" stroke-width="1.1"/>
<line x1="614.7" y1="247.26" x2="617.2" y2="247.26" stroke="#1a1a1a" stroke-width="1.1"/>
<line x1="614.7" y1="262.84" x2="617.2" y2="262.84" stroke="#1a1a1a" stroke-width="1.1"/>
<line x1="614.7" y1="278.42" x2="617.2" y2="278.42" stroke="#1a1a1a" stroke-width="1.1"/>
<line x1="614.7" y1="294" x2="617.2" y2="294" stroke="#1a1a1a" stroke-width="1.1"/>
<line x1="614.7" y1="309.58" x2="617.2" y2="309.58" stroke="#1a1a1a" stroke-width="1.1"/>
<line x1="614.7" y1="325.16" x2="617.2" y2="325.16" stroke="#1a1a1a" stroke-width="1.1"/>
<line x1="614.7" y1="340.74" x2="617.2" y2="340.74" stroke="#1a1a1a" stroke-width="1.1"/>
<line x1="614.7" y1="356.32" x2="617.2" y2="356.32" stroke="#1a1a1a" stroke-width="1.1"/>
<line x1="614.7" y1="371.9" x2="617.2" y2="371.9" stroke="#1a1a1a" stroke-width="1.1"/>
<line x1="614.7" y1="387.48" x2="617.2" y2="387.48" stroke="#1a1a1a" stroke-width="1.1"/>
<line x1="614.7" y1="403.06" x2="617.2" y2="403.06" stroke="#1a1a1a" stroke-width="1.1"/>
<line x1="614.7" y1="418.64" x2="617.2" y2="418.64" stroke="#1a1a1a" stroke-width="1.1"/>
<line x1="614.7" y1="434.22" x2="617.2" y2="434.22" stroke="#1a1a1a" stroke-width="1.1"/>
<line x1="614.7" y1="449.8" x2="617.2" y2="449.8" stroke="#1a1a1a" stroke-width="1.1"/>
<line x1="612.4" y1="68.09" x2="617.2" y2="68.09" stroke="#1a1a1a" stroke-width="1.1"/>
<line x1="612.4" y1="83.67" x2="617.2" y2="83.67" stroke="#1a1a1a" stroke-width="1.1"/>
<line x1="612.4" y1="99.25" x2="617.2" y2="99.25" stroke="#1a1a1a" stroke-width="1.1"/>
<line x1="612.4" y1="114.83" x2="617.2" y2="114.83" stroke="#1a1a1a" stroke-width="1.1"/>
<line x1="612.4" y1="130.41" x2="617.2" y2="130.41" stroke="#1a1a1a" stroke-width="1.1"/>
<line x1="612.4" y1="145.99" x2="617.2" y2="145.99" stroke="#1a1a1a" stroke-width="1.1"/>
<line x1="612.4" y1="161.57" x2="617.2" y2="161.57" stroke="#1a1a1a" stroke-width="1.1"/>
<line x1="612.4" y1="177.15" x2="617.2" y2="177.15" stroke="#1a1a1a" stroke-width="1.1"/>
<line x1="612.4" y1="192.73" x2="617.2" y2="192.73" stroke="#1a1a1a" stroke-width="1.1"/>
<line x1="612.4" y1="208.31" x2="617.2" y2="208.31" stroke="#1a1a1a" stroke-width="1.1"/>
<line x1="612.4" y1="223.89" x2="617.2" y2="223.89" stroke="#1a1a1a" stroke-width="1.1"/>
<line x1="612.4" y1="239.47" x2="617.2" y2="239.47" stroke="#1a1a1a" stroke-width="1.1"/>
<line x1="612.4" y1="255.05" x2="617.2" y2="255.05" stroke="#1a1a1a" stroke-width="1.1"/>
<line x1="612.4" y1="270.63" x2="617.2" y2="270.63" stroke="#1a1a1a" stroke-width="1.1"/>
<line x1="612.4" y1="286.21" x2="617.2" y2="286.21" stroke="#1a1a1a" stroke-width="1.1"/>
<line x1="612.4" y1="301.79" x2="617.2" y2="301.79" stroke="#1a1a1a" stroke-width="1.1"/>
<line x1="612.4" y1="317.37" x2="617.2" y2="317.37" stroke="#1a1a1a" stroke-width="1.1"/>
<line x1="612.4" y1="332.95" x2="617.2" y2="332.95" stroke="#1a1a1a" stroke-width="1.1"/>
<line x1="612.4" y1="348.53" x2="617.2" y2="348.53" stroke="#1a1a1a" stroke-width="1.1"/>
<line x1="612.4" y1="364.11" x2="617.2" y2="364.11" stroke="#1a1a1a" stroke-width="1.1"/>
<line x1="612.4" y1="379.69" x2="617.2" y2="379.69" stroke="#1a1a1a" stroke-width="1.1"/>
<line x1="612.4" y1="395.27" x2="617.2" y2="395.27" stroke="#1a1a1a" stroke-width="1.1"/>
<line x1="612.4" y1="410.85" x2="617.2" y2="410.85" stroke="#1a1a1a" stroke-width="1.1"/>
<line x1="612.4" y1="426.43" x2="617.2" y2="426.43" stroke="#1a1a1a" stroke-width="1.1"/>
<line x1="612.4" y1="442.01" x2="617.2" y2="442.01" stroke="#1a1a1a" stroke-width="1.1"/>
<line x1="617.2" y1="449.8" x2="1074.5" y2="449.8" stroke="#1a1a1a" stroke-width="1.3"/>
<line x1="617" y1="449.8" x2="617" y2="454.8" stroke="#1a1a1a" stroke-width="1.1"/>
<text class="tk" transform="translate(617,466.9) scale(1,1.038)" text-anchor="middle">0</text>
<line x1="779.4" y1="449.8" x2="779.4" y2="454.8" stroke="#1a1a1a" stroke-width="1.1"/>
<text class="tk" transform="translate(779.4,466.9) scale(1,1.038)" text-anchor="middle">2</text>
<line x1="941.8" y1="449.8" x2="941.8" y2="454.8" stroke="#1a1a1a" stroke-width="1.1"/>
<text class="tk" transform="translate(941.8,466.9) scale(1,1.038)" text-anchor="middle">4</text>
<line x1="649.48" y1="449.8" x2="649.48" y2="452.6" stroke="#1a1a1a" stroke-width="1.1"/>
<line x1="681.96" y1="449.8" x2="681.96" y2="452.6" stroke="#1a1a1a" stroke-width="1.1"/>
<line x1="714.44" y1="449.8" x2="714.44" y2="452.6" stroke="#1a1a1a" stroke-width="1.1"/>
<line x1="746.92" y1="449.8" x2="746.92" y2="452.6" stroke="#1a1a1a" stroke-width="1.1"/>
<line x1="811.88" y1="449.8" x2="811.88" y2="452.6" stroke="#1a1a1a" stroke-width="1.1"/>
<line x1="844.36" y1="449.8" x2="844.36" y2="452.6" stroke="#1a1a1a" stroke-width="1.1"/>
<line x1="876.84" y1="449.8" x2="876.84" y2="452.6" stroke="#1a1a1a" stroke-width="1.1"/>
<line x1="909.32" y1="449.8" x2="909.32" y2="452.6" stroke="#1a1a1a" stroke-width="1.1"/>
<line x1="974.28" y1="449.8" x2="974.28" y2="452.6" stroke="#1a1a1a" stroke-width="1.1"/>
<line x1="1006.76" y1="449.8" x2="1006.76" y2="452.6" stroke="#1a1a1a" stroke-width="1.1"/>
<line x1="1039.24" y1="449.8" x2="1039.24" y2="452.6" stroke="#1a1a1a" stroke-width="1.1"/>
<line x1="1071.72" y1="449.8" x2="1071.72" y2="452.6" stroke="#1a1a1a" stroke-width="1.1"/>
<text class="ti" transform="translate(844.4,486.8) scale(1,1.038)" text-anchor="middle">Ln (LMA)</text>
<line x1="1424.5" y1="76.85" x2="1527" y2="76.85" stroke="#dcdcdc" stroke-width="0.8" stroke-dasharray="1.1 1.1"/>
<line x1="1421.3" y1="92.4" x2="1527" y2="92.4" stroke="#dcdcdc" stroke-width="0.8" stroke-dasharray="1.1 1.1"/>
<line x1="1421.3" y1="107.95" x2="1527" y2="107.95" stroke="#dcdcdc" stroke-width="0.8" stroke-dasharray="1.1 1.1"/>
<line x1="1368" y1="123.5" x2="1527" y2="123.5" stroke="#dcdcdc" stroke-width="0.8" stroke-dasharray="1.1 1.1"/>
<line x1="1387.8" y1="139.05" x2="1527" y2="139.05" stroke="#dcdcdc" stroke-width="0.8" stroke-dasharray="1.1 1.1"/>
<line x1="1421.3" y1="154.6" x2="1527" y2="154.6" stroke="#dcdcdc" stroke-width="0.8" stroke-dasharray="1.1 1.1"/>
<line x1="1477.8" y1="170.15" x2="1527" y2="170.15" stroke="#dcdcdc" stroke-width="0.8" stroke-dasharray="1.1 1.1"/>
<line x1="1477.8" y1="185.7" x2="1527" y2="185.7" stroke="#dcdcdc" stroke-width="0.8" stroke-dasharray="1.1 1.1"/>
<line x1="1457.7" y1="201.25" x2="1527" y2="201.25" stroke="#dcdcdc" stroke-width="0.8" stroke-dasharray="1.1 1.1"/>
<line x1="1444.6" y1="216.8" x2="1527" y2="216.8" stroke="#dcdcdc" stroke-width="0.8" stroke-dasharray="1.1 1.1"/>
<line x1="1414.5" y1="232.35" x2="1527" y2="232.35" stroke="#dcdcdc" stroke-width="0.8" stroke-dasharray="1.1 1.1"/>
<line x1="1414.5" y1="247.9" x2="1527" y2="247.9" stroke="#dcdcdc" stroke-width="0.8" stroke-dasharray="1.1 1.1"/>
<line x1="1414.5" y1="263.45" x2="1527" y2="263.45" stroke="#dcdcdc" stroke-width="0.8" stroke-dasharray="1.1 1.1"/>
<line x1="1384.5" y1="279" x2="1527" y2="279" stroke="#dcdcdc" stroke-width="0.8" stroke-dasharray="1.1 1.1"/>
<line x1="1345" y1="294.55" x2="1527" y2="294.55" stroke="#dcdcdc" stroke-width="0.8" stroke-dasharray="1.1 1.1"/>
<line x1="1345" y1="310.1" x2="1527" y2="310.1" stroke="#dcdcdc" stroke-width="0.8" stroke-dasharray="1.1 1.1"/>
<line x1="1328.6" y1="325.65" x2="1527" y2="325.65" stroke="#dcdcdc" stroke-width="0.8" stroke-dasharray="1.1 1.1"/>
<line x1="1328.6" y1="341.2" x2="1527" y2="341.2" stroke="#dcdcdc" stroke-width="0.8" stroke-dasharray="1.1 1.1"/>
<line x1="1334.7" y1="356.75" x2="1527" y2="356.75" stroke="#dcdcdc" stroke-width="0.8" stroke-dasharray="1.1 1.1"/>
<line x1="1358" y1="372.3" x2="1527" y2="372.3" stroke="#dcdcdc" stroke-width="0.8" stroke-dasharray="1.1 1.1"/>
<line x1="1447.8" y1="387.85" x2="1527" y2="387.85" stroke="#dcdcdc" stroke-width="0.8" stroke-dasharray="1.1 1.1"/>
<line x1="1447.8" y1="403.4" x2="1527" y2="403.4" stroke="#dcdcdc" stroke-width="0.8" stroke-dasharray="1.1 1.1"/>
<line x1="1358" y1="418.95" x2="1527" y2="418.95" stroke="#dcdcdc" stroke-width="0.8" stroke-dasharray="1.1 1.1"/>
<line x1="1358" y1="434.5" x2="1527" y2="434.5" stroke="#dcdcdc" stroke-width="0.8" stroke-dasharray="1.1 1.1"/>
<rect x="1074.7" y="62.86" width="348.8" height="12.44" fill="#c3b1dc" stroke="rgba(0,0,0,0.58)" stroke-width="1"/>
<rect x="1074.7" y="78.41" width="222.7" height="12.44" fill="#c3b1dc" stroke="rgba(0,0,0,0.58)" stroke-width="1"/>
<rect x="1074.7" y="93.95" width="345.6" height="12.44" fill="#9dd89d" stroke="rgba(0,0,0,0.58)" stroke-width="1"/>
<rect x="1074.7" y="109.5" width="292.3" height="12.44" fill="#9dd89d" stroke="rgba(0,0,0,0.58)" stroke-width="1"/>
<rect x="1074.7" y="125.06" width="275.8" height="12.44" fill="#9dd89d" stroke="rgba(0,0,0,0.58)" stroke-width="1"/>
<rect x="1074.7" y="140.6" width="312.1" height="12.44" fill="#9dd89d" stroke="rgba(0,0,0,0.58)" stroke-width="1"/>
<rect x="1074.7" y="156.16" width="345.6" height="12.44" fill="#9dd89d" stroke="rgba(0,0,0,0.58)" stroke-width="1"/>
<rect x="1074.7" y="171.71" width="402.1" height="12.44" fill="#fec896" stroke="rgba(0,0,0,0.58)" stroke-width="1"/>
<rect x="1074.7" y="187.26" width="382" height="12.44" fill="#fec896" stroke="rgba(0,0,0,0.58)" stroke-width="1"/>
<rect x="1074.7" y="202.8" width="368.9" height="12.44" fill="#fec896" stroke="rgba(0,0,0,0.58)" stroke-width="1"/>
<rect x="1074.7" y="218.35" width="338.8" height="12.44" fill="#fec896" stroke="rgba(0,0,0,0.58)" stroke-width="1"/>
<rect x="1074.7" y="233.91" width="302.5" height="12.44" fill="#fec896" stroke="rgba(0,0,0,0.58)" stroke-width="1"/>
<rect x="1074.7" y="249.46" width="338.8" height="12.44" fill="#fec896" stroke="rgba(0,0,0,0.58)" stroke-width="1"/>
<rect x="1074.7" y="265" width="308.8" height="12.44" fill="#fec896" stroke="rgba(0,0,0,0.58)" stroke-width="1"/>
<rect x="1074.7" y="280.56" width="222.9" height="12.44" fill="#c3b1dc" stroke="rgba(0,0,0,0.58)" stroke-width="1"/>
<rect x="1074.7" y="296.1" width="269.3" height="12.44" fill="#9dd89d" stroke="rgba(0,0,0,0.58)" stroke-width="1"/>
<rect x="1074.7" y="311.65" width="252.9" height="12.44" fill="#9dd89d" stroke="rgba(0,0,0,0.58)" stroke-width="1"/>
<rect x="1074.7" y="327.2" width="235.8" height="12.44" fill="#9dd89d" stroke="rgba(0,0,0,0.58)" stroke-width="1"/>
<rect x="1074.7" y="342.75" width="252.9" height="12.44" fill="#9dd89d" stroke="rgba(0,0,0,0.58)" stroke-width="1"/>
<rect x="1074.7" y="358.31" width="259" height="12.44" fill="#fec896" stroke="rgba(0,0,0,0.58)" stroke-width="1"/>
<rect x="1074.7" y="373.86" width="282.3" height="12.44" fill="#fec896" stroke="rgba(0,0,0,0.58)" stroke-width="1"/>
<rect x="1074.7" y="389.4" width="372.1" height="12.44" fill="#fec896" stroke="rgba(0,0,0,0.58)" stroke-width="1"/>
<rect x="1074.7" y="404.95" width="255.8" height="12.44" fill="#fec896" stroke="rgba(0,0,0,0.58)" stroke-width="1"/>
<rect x="1074.7" y="420.5" width="282.3" height="12.44" fill="#fec896" stroke="rgba(0,0,0,0.58)" stroke-width="1"/>
<rect x="1074.7" y="436.06" width="255.8" height="12.44" fill="#fec896" stroke="rgba(0,0,0,0.58)" stroke-width="1"/>
<line x1="1416.7" y1="69.08" x2="1430.3" y2="69.08" stroke="rgba(0,0,0,0.33)" stroke-width="1"/>
<line x1="1416.7" y1="66.38" x2="1416.7" y2="71.78" stroke="rgba(0,0,0,0.45)" stroke-width="1"/>
<text class="lt" transform="translate(1430.1,72.98) scale(1,0.92)">abcd</text>
<line x1="1296.6" y1="84.62" x2="1298.2" y2="84.62" stroke="rgba(0,0,0,0.33)" stroke-width="1"/>
<line x1="1296.6" y1="81.92" x2="1296.6" y2="87.33" stroke="rgba(0,0,0,0.45)" stroke-width="1"/>
<clipPath id="fc"><rect x="1290" y="70" width="20" height="14.3"/></clipPath>
<g clip-path="url(#fc)"><text class="lt" transform="translate(1296.6,88.53) scale(1,0.92)">f</text></g>
<line x1="1413.5" y1="100.17" x2="1427.1" y2="100.17" stroke="rgba(0,0,0,0.33)" stroke-width="1"/>
<line x1="1413.5" y1="97.47" x2="1413.5" y2="102.88" stroke="rgba(0,0,0,0.45)" stroke-width="1"/>
<text class="lt" transform="translate(1426.5,104.08) scale(1,0.92)">abcd</text>
<line x1="1360.4" y1="115.72" x2="1373.6" y2="115.72" stroke="rgba(0,0,0,0.33)" stroke-width="1"/>
<line x1="1360.4" y1="113.02" x2="1360.4" y2="118.42" stroke="rgba(0,0,0,0.45)" stroke-width="1"/>
<text class="lt" transform="translate(1373.6,119.62) scale(1,0.92)">cdef</text>
<line x1="1347.1" y1="131.28" x2="1353.9" y2="131.28" stroke="rgba(0,0,0,0.33)" stroke-width="1"/>
<line x1="1347.1" y1="128.58" x2="1347.1" y2="133.97" stroke="rgba(0,0,0,0.45)" stroke-width="1"/>
<text class="lt" transform="translate(1353.7,135.18) scale(1,0.92)">def</text>
<line x1="1380.3" y1="146.82" x2="1393.3" y2="146.82" stroke="rgba(0,0,0,0.33)" stroke-width="1"/>
<line x1="1380.3" y1="144.12" x2="1380.3" y2="149.52" stroke="rgba(0,0,0,0.45)" stroke-width="1"/>
<text class="lt" transform="translate(1393.7,150.72) scale(1,0.92)">bcde</text>
<line x1="1410.6" y1="162.38" x2="1430" y2="162.38" stroke="rgba(0,0,0,0.33)" stroke-width="1"/>
<line x1="1410.6" y1="159.68" x2="1410.6" y2="165.07" stroke="rgba(0,0,0,0.45)" stroke-width="1"/>
<text class="lt" transform="translate(1430.1,166.28) scale(1,0.92)">abcd</text>
<line x1="1466.8" y1="177.93" x2="1486.8" y2="177.93" stroke="rgba(0,0,0,0.33)" stroke-width="1"/>
<line x1="1466.8" y1="175.23" x2="1466.8" y2="180.62" stroke="rgba(0,0,0,0.45)" stroke-width="1"/>
<text class="lt" transform="translate(1485.9,181.83) scale(1,0.92)">a</text>
<line x1="1423.2" y1="193.48" x2="1490.2" y2="193.48" stroke="rgba(0,0,0,0.33)" stroke-width="1"/>
<line x1="1423.2" y1="190.78" x2="1423.2" y2="196.18" stroke="rgba(0,0,0,0.45)" stroke-width="1"/>
<text class="lt" transform="translate(1489.5,197.38) scale(1,0.92)">ab</text>
<line x1="1430" y1="209.02" x2="1457.2" y2="209.02" stroke="rgba(0,0,0,0.33)" stroke-width="1"/>
<line x1="1430" y1="206.32" x2="1430" y2="211.72" stroke="rgba(0,0,0,0.45)" stroke-width="1"/>
<text class="lt" transform="translate(1456.3,212.92) scale(1,0.92)">abc</text>
<line x1="1407" y1="224.57" x2="1420" y2="224.57" stroke="rgba(0,0,0,0.33)" stroke-width="1"/>
<line x1="1407" y1="221.88" x2="1407" y2="227.27" stroke="rgba(0,0,0,0.45)" stroke-width="1"/>
<text class="lt" transform="translate(1419.9,228.47) scale(1,0.92)">abcd</text>
<line x1="1367" y1="240.12" x2="1387.4" y2="240.12" stroke="rgba(0,0,0,0.33)" stroke-width="1"/>
<line x1="1367" y1="237.43" x2="1367" y2="242.82" stroke="rgba(0,0,0,0.45)" stroke-width="1"/>
<text class="lt" transform="translate(1386.9,244.03) scale(1,0.92)">bcdef</text>
<line x1="1376.7" y1="255.68" x2="1450.3" y2="255.68" stroke="rgba(0,0,0,0.33)" stroke-width="1"/>
<line x1="1376.7" y1="252.98" x2="1376.7" y2="258.38" stroke="rgba(0,0,0,0.45)" stroke-width="1"/>
<text class="lt" transform="translate(1450,259.57) scale(1,0.92)">abcd</text>
<line x1="1380.3" y1="271.23" x2="1386.7" y2="271.23" stroke="rgba(0,0,0,0.33)" stroke-width="1"/>
<line x1="1380.3" y1="268.53" x2="1380.3" y2="273.93" stroke="rgba(0,0,0,0.45)" stroke-width="1"/>
<text class="lt" transform="translate(1387.2,275.12) scale(1,0.92)">bcde</text>
<line x1="1290.4" y1="286.78" x2="1304.8" y2="286.78" stroke="rgba(0,0,0,0.33)" stroke-width="1"/>
<line x1="1290.4" y1="284.08" x2="1290.4" y2="289.48" stroke="rgba(0,0,0,0.45)" stroke-width="1"/>
<text class="lt" transform="translate(1304.3,290.68) scale(1,0.92)">b</text>
<line x1="1327.6" y1="302.32" x2="1360.4" y2="302.32" stroke="rgba(0,0,0,0.33)" stroke-width="1"/>
<line x1="1327.6" y1="299.62" x2="1327.6" y2="305.02" stroke="rgba(0,0,0,0.45)" stroke-width="1"/>
<text class="lt" transform="translate(1360.5,306.22) scale(1,0.92)">b</text>
<line x1="1307.3" y1="317.88" x2="1347.9" y2="317.88" stroke="rgba(0,0,0,0.33)" stroke-width="1"/>
<line x1="1307.3" y1="315.18" x2="1307.3" y2="320.57" stroke="rgba(0,0,0,0.45)" stroke-width="1"/>
<text class="lt" transform="translate(1347,321.77) scale(1,0.92)">b</text>
<line x1="1297.3" y1="333.43" x2="1323.7" y2="333.43" stroke="rgba(0,0,0,0.33)" stroke-width="1"/>
<line x1="1297.3" y1="330.73" x2="1297.3" y2="336.12" stroke="rgba(0,0,0,0.45)" stroke-width="1"/>
<text class="lt" transform="translate(1323.7,337.32) scale(1,0.92)">b</text>
<line x1="1317.6" y1="348.98" x2="1337.6" y2="348.98" stroke="rgba(0,0,0,0.33)" stroke-width="1"/>
<line x1="1317.6" y1="346.28" x2="1317.6" y2="351.68" stroke="rgba(0,0,0,0.45)" stroke-width="1"/>
<text class="lt" transform="translate(1336.8,352.88) scale(1,0.92)">b</text>
<line x1="1330.5" y1="364.53" x2="1336.9" y2="364.53" stroke="rgba(0,0,0,0.33)" stroke-width="1"/>
<line x1="1330.5" y1="361.83" x2="1330.5" y2="367.23" stroke="rgba(0,0,0,0.45)" stroke-width="1"/>
<text class="lt" transform="translate(1336.9,368.43) scale(1,0.92)">b</text>
<line x1="1347" y1="380.08" x2="1367" y2="380.08" stroke="rgba(0,0,0,0.33)" stroke-width="1"/>
<line x1="1347" y1="377.38" x2="1347" y2="382.78" stroke="rgba(0,0,0,0.45)" stroke-width="1"/>
<text class="lt" transform="translate(1366.7,383.98) scale(1,0.92)">b</text>
<line x1="1426.6" y1="395.62" x2="1467" y2="395.62" stroke="rgba(0,0,0,0.33)" stroke-width="1"/>
<line x1="1426.6" y1="392.93" x2="1426.6" y2="398.32" stroke="rgba(0,0,0,0.45)" stroke-width="1"/>
<text class="lt" transform="translate(1466.4,399.52) scale(1,0.92)">a</text>
<line x1="1317.1" y1="411.18" x2="1343.9" y2="411.18" stroke="rgba(0,0,0,0.33)" stroke-width="1"/>
<line x1="1317.1" y1="408.48" x2="1317.1" y2="413.88" stroke="rgba(0,0,0,0.45)" stroke-width="1"/>
<text class="lt" transform="translate(1343.3,415.07) scale(1,0.92)">b</text>
<line x1="1340" y1="426.73" x2="1374" y2="426.73" stroke="rgba(0,0,0,0.33)" stroke-width="1"/>
<line x1="1340" y1="424.03" x2="1340" y2="429.43" stroke="rgba(0,0,0,0.45)" stroke-width="1"/>
<text class="lt" transform="translate(1373.4,430.62) scale(1,0.92)">b</text>
<line x1="1317.1" y1="442.28" x2="1343.9" y2="442.28" stroke="rgba(0,0,0,0.33)" stroke-width="1"/>
<line x1="1317.1" y1="439.58" x2="1317.1" y2="444.98" stroke="rgba(0,0,0,0.45)" stroke-width="1"/>
<text class="lt" transform="translate(1343.3,446.18) scale(1,0.92)">b</text>
<line x1="1074.7" y1="61.3" x2="1074.7" y2="455.05" stroke="#1a1a1a" stroke-width="1.3"/>
<line x1="1072.2" y1="61.3" x2="1074.7" y2="61.3" stroke="#1a1a1a" stroke-width="1.1"/>
<line x1="1072.2" y1="76.85" x2="1074.7" y2="76.85" stroke="#1a1a1a" stroke-width="1.1"/>
<line x1="1072.2" y1="92.4" x2="1074.7" y2="92.4" stroke="#1a1a1a" stroke-width="1.1"/>
<line x1="1072.2" y1="107.95" x2="1074.7" y2="107.95" stroke="#1a1a1a" stroke-width="1.1"/>
<line x1="1072.2" y1="123.5" x2="1074.7" y2="123.5" stroke="#1a1a1a" stroke-width="1.1"/>
<line x1="1072.2" y1="139.05" x2="1074.7" y2="139.05" stroke="#1a1a1a" stroke-width="1.1"/>
<line x1="1072.2" y1="154.6" x2="1074.7" y2="154.6" stroke="#1a1a1a" stroke-width="1.1"/>
<line x1="1072.2" y1="170.15" x2="1074.7" y2="170.15" stroke="#1a1a1a" stroke-width="1.1"/>
<line x1="1072.2" y1="185.7" x2="1074.7" y2="185.7" stroke="#1a1a1a" stroke-width="1.1"/>
<line x1="1072.2" y1="201.25" x2="1074.7" y2="201.25" stroke="#1a1a1a" stroke-width="1.1"/>
<line x1="1072.2" y1="216.8" x2="1074.7" y2="216.8" stroke="#1a1a1a" stroke-width="1.1"/>
<line x1="1072.2" y1="232.35" x2="1074.7" y2="232.35" stroke="#1a1a1a" stroke-width="1.1"/>
<line x1="1072.2" y1="247.9" x2="1074.7" y2="247.9" stroke="#1a1a1a" stroke-width="1.1"/>
<line x1="1072.2" y1="263.45" x2="1074.7" y2="263.45" stroke="#1a1a1a" stroke-width="1.1"/>
<line x1="1072.2" y1="279" x2="1074.7" y2="279" stroke="#1a1a1a" stroke-width="1.1"/>
<line x1="1072.2" y1="294.55" x2="1074.7" y2="294.55" stroke="#1a1a1a" stroke-width="1.1"/>
<line x1="1072.2" y1="310.1" x2="1074.7" y2="310.1" stroke="#1a1a1a" stroke-width="1.1"/>
<line x1="1072.2" y1="325.65" x2="1074.7" y2="325.65" stroke="#1a1a1a" stroke-width="1.1"/>
<line x1="1072.2" y1="341.2" x2="1074.7" y2="341.2" stroke="#1a1a1a" stroke-width="1.1"/>
<line x1="1072.2" y1="356.75" x2="1074.7" y2="356.75" stroke="#1a1a1a" stroke-width="1.1"/>
<line x1="1072.2" y1="372.3" x2="1074.7" y2="372.3" stroke="#1a1a1a" stroke-width="1.1"/>
<line x1="1072.2" y1="387.85" x2="1074.7" y2="387.85" stroke="#1a1a1a" stroke-width="1.1"/>
<line x1="1072.2" y1="403.4" x2="1074.7" y2="403.4" stroke="#1a1a1a" stroke-width="1.1"/>
<line x1="1072.2" y1="418.95" x2="1074.7" y2="418.95" stroke="#1a1a1a" stroke-width="1.1"/>
<line x1="1072.2" y1="434.5" x2="1074.7" y2="434.5" stroke="#1a1a1a" stroke-width="1.1"/>
<line x1="1072.2" y1="450.05" x2="1074.7" y2="450.05" stroke="#1a1a1a" stroke-width="1.1"/>
<line x1="1069.9" y1="69.08" x2="1074.7" y2="69.08" stroke="#1a1a1a" stroke-width="1.1"/>
<line x1="1069.9" y1="84.62" x2="1074.7" y2="84.62" stroke="#1a1a1a" stroke-width="1.1"/>
<line x1="1069.9" y1="100.17" x2="1074.7" y2="100.17" stroke="#1a1a1a" stroke-width="1.1"/>
<line x1="1069.9" y1="115.72" x2="1074.7" y2="115.72" stroke="#1a1a1a" stroke-width="1.1"/>
<line x1="1069.9" y1="131.28" x2="1074.7" y2="131.28" stroke="#1a1a1a" stroke-width="1.1"/>
<line x1="1069.9" y1="146.82" x2="1074.7" y2="146.82" stroke="#1a1a1a" stroke-width="1.1"/>
<line x1="1069.9" y1="162.38" x2="1074.7" y2="162.38" stroke="#1a1a1a" stroke-width="1.1"/>
<line x1="1069.9" y1="177.93" x2="1074.7" y2="177.93" stroke="#1a1a1a" stroke-width="1.1"/>
<line x1="1069.9" y1="193.48" x2="1074.7" y2="193.48" stroke="#1a1a1a" stroke-width="1.1"/>
<line x1="1069.9" y1="209.02" x2="1074.7" y2="209.02" stroke="#1a1a1a" stroke-width="1.1"/>
<line x1="1069.9" y1="224.57" x2="1074.7" y2="224.57" stroke="#1a1a1a" stroke-width="1.1"/>
<line x1="1069.9" y1="240.12" x2="1074.7" y2="240.12" stroke="#1a1a1a" stroke-width="1.1"/>
<line x1="1069.9" y1="255.68" x2="1074.7" y2="255.68" stroke="#1a1a1a" stroke-width="1.1"/>
<line x1="1069.9" y1="271.23" x2="1074.7" y2="271.23" stroke="#1a1a1a" stroke-width="1.1"/>
<line x1="1069.9" y1="286.78" x2="1074.7" y2="286.78" stroke="#1a1a1a" stroke-width="1.1"/>
<line x1="1069.9" y1="302.32" x2="1074.7" y2="302.32" stroke="#1a1a1a" stroke-width="1.1"/>
<line x1="1069.9" y1="317.88" x2="1074.7" y2="317.88" stroke="#1a1a1a" stroke-width="1.1"/>
<line x1="1069.9" y1="333.43" x2="1074.7" y2="333.43" stroke="#1a1a1a" stroke-width="1.1"/>
<line x1="1069.9" y1="348.98" x2="1074.7" y2="348.98" stroke="#1a1a1a" stroke-width="1.1"/>
<line x1="1069.9" y1="364.53" x2="1074.7" y2="364.53" stroke="#1a1a1a" stroke-width="1.1"/>
<line x1="1069.9" y1="380.08" x2="1074.7" y2="380.08" stroke="#1a1a1a" stroke-width="1.1"/>
<line x1="1069.9" y1="395.62" x2="1074.7" y2="395.62" stroke="#1a1a1a" stroke-width="1.1"/>
<line x1="1069.9" y1="411.18" x2="1074.7" y2="411.18" stroke="#1a1a1a" stroke-width="1.1"/>
<line x1="1069.9" y1="426.73" x2="1074.7" y2="426.73" stroke="#1a1a1a" stroke-width="1.1"/>
<line x1="1069.9" y1="442.28" x2="1074.7" y2="442.28" stroke="#1a1a1a" stroke-width="1.1"/>
<line x1="1074.7" y1="450.05" x2="1527" y2="450.05" stroke="#1a1a1a" stroke-width="1.3"/>
<line x1="1074.7" y1="450.05" x2="1074.7" y2="455.05" stroke="#1a1a1a" stroke-width="1.1"/>
<text class="tk" transform="translate(1074.7,466.9) scale(1,1.038)" text-anchor="middle">0.0</text>
<line x1="1141.2" y1="450.05" x2="1141.2" y2="455.05" stroke="#1a1a1a" stroke-width="1.1"/>
<text class="tk" transform="translate(1141.2,466.9) scale(1,1.038)" text-anchor="middle">0.2</text>
<line x1="1207.7" y1="450.05" x2="1207.7" y2="455.05" stroke="#1a1a1a" stroke-width="1.1"/>
<text class="tk" transform="translate(1207.7,466.9) scale(1,1.038)" text-anchor="middle">0.4</text>
<line x1="1274.2" y1="450.05" x2="1274.2" y2="455.05" stroke="#1a1a1a" stroke-width="1.1"/>
<text class="tk" transform="translate(1274.2,466.9) scale(1,1.038)" text-anchor="middle">0.6</text>
<line x1="1340.7" y1="450.05" x2="1340.7" y2="455.05" stroke="#1a1a1a" stroke-width="1.1"/>
<text class="tk" transform="translate(1340.7,466.9) scale(1,1.038)" text-anchor="middle">0.8</text>
<line x1="1407.2" y1="450.05" x2="1407.2" y2="455.05" stroke="#1a1a1a" stroke-width="1.1"/>
<text class="tk" transform="translate(1407.2,466.9) scale(1,1.038)" text-anchor="middle">1.0</text>
<line x1="1473.7" y1="450.05" x2="1473.7" y2="455.05" stroke="#1a1a1a" stroke-width="1.1"/>
<text class="tk" transform="translate(1473.7,466.9) scale(1,1.038)" text-anchor="middle">1.2</text>
<line x1="1088" y1="450.05" x2="1088" y2="452.85" stroke="#1a1a1a" stroke-width="1.1"/>
<line x1="1101.3" y1="450.05" x2="1101.3" y2="452.85" stroke="#1a1a1a" stroke-width="1.1"/>
<line x1="1114.6" y1="450.05" x2="1114.6" y2="452.85" stroke="#1a1a1a" stroke-width="1.1"/>
<line x1="1127.9" y1="450.05" x2="1127.9" y2="452.85" stroke="#1a1a1a" stroke-width="1.1"/>
<line x1="1154.5" y1="450.05" x2="1154.5" y2="452.85" stroke="#1a1a1a" stroke-width="1.1"/>
<line x1="1167.8" y1="450.05" x2="1167.8" y2="452.85" stroke="#1a1a1a" stroke-width="1.1"/>
<line x1="1181.1" y1="450.05" x2="1181.1" y2="452.85" stroke="#1a1a1a" stroke-width="1.1"/>
<line x1="1194.4" y1="450.05" x2="1194.4" y2="452.85" stroke="#1a1a1a" stroke-width="1.1"/>
<line x1="1221" y1="450.05" x2="1221" y2="452.85" stroke="#1a1a1a" stroke-width="1.1"/>
<line x1="1234.3" y1="450.05" x2="1234.3" y2="452.85" stroke="#1a1a1a" stroke-width="1.1"/>
<line x1="1247.6" y1="450.05" x2="1247.6" y2="452.85" stroke="#1a1a1a" stroke-width="1.1"/>
<line x1="1260.9" y1="450.05" x2="1260.9" y2="452.85" stroke="#1a1a1a" stroke-width="1.1"/>
<line x1="1287.5" y1="450.05" x2="1287.5" y2="452.85" stroke="#1a1a1a" stroke-width="1.1"/>
<line x1="1300.8" y1="450.05" x2="1300.8" y2="452.85" stroke="#1a1a1a" stroke-width="1.1"/>
<line x1="1314.1" y1="450.05" x2="1314.1" y2="452.85" stroke="#1a1a1a" stroke-width="1.1"/>
<line x1="1327.4" y1="450.05" x2="1327.4" y2="452.85" stroke="#1a1a1a" stroke-width="1.1"/>
<line x1="1354" y1="450.05" x2="1354" y2="452.85" stroke="#1a1a1a" stroke-width="1.1"/>
<line x1="1367.3" y1="450.05" x2="1367.3" y2="452.85" stroke="#1a1a1a" stroke-width="1.1"/>
<line x1="1380.6" y1="450.05" x2="1380.6" y2="452.85" stroke="#1a1a1a" stroke-width="1.1"/>
<line x1="1393.9" y1="450.05" x2="1393.9" y2="452.85" stroke="#1a1a1a" stroke-width="1.1"/>
<line x1="1420.5" y1="450.05" x2="1420.5" y2="452.85" stroke="#1a1a1a" stroke-width="1.1"/>
<line x1="1433.8" y1="450.05" x2="1433.8" y2="452.85" stroke="#1a1a1a" stroke-width="1.1"/>
<line x1="1447.1" y1="450.05" x2="1447.1" y2="452.85" stroke="#1a1a1a" stroke-width="1.1"/>
<line x1="1460.4" y1="450.05" x2="1460.4" y2="452.85" stroke="#1a1a1a" stroke-width="1.1"/>
<line x1="1487" y1="450.05" x2="1487" y2="452.85" stroke="#1a1a1a" stroke-width="1.1"/>
<line x1="1500.3" y1="450.05" x2="1500.3" y2="452.85" stroke="#1a1a1a" stroke-width="1.1"/>
<line x1="1513.6" y1="450.05" x2="1513.6" y2="452.85" stroke="#1a1a1a" stroke-width="1.1"/>
<line x1="1526.9" y1="450.05" x2="1526.9" y2="452.85" stroke="#1a1a1a" stroke-width="1.1"/>
<text class="ti" transform="translate(1300.7,486.8) scale(1,1.038)" text-anchor="middle">SSD</text>
<text class="sp" transform="translate(196,64.21) scale(1,1.038)" text-anchor="end">Tamarindus indica </text>
<text class="sp" transform="translate(196,80.03) scale(1,1.038)" text-anchor="end">Trichilea emetica </text>
<text class="sp" transform="translate(196,95.85) scale(1,1.038)" text-anchor="end">Tecla nobilis </text>
<text class="sp" transform="translate(196,111.67) scale(1,1.038)" text-anchor="end">Sclerocarya birrea  </text>
<text class="sp" transform="translate(196,127.49) scale(1,1.038)" text-anchor="end">Piliostigma thonningii </text>
<text class="sp" transform="translate(196,143.31) scale(1,1.038)" text-anchor="end">Garcinia Livingstonei</text>
<text class="sp" transform="translate(196,159.13) scale(1,1.038)" text-anchor="end">Balanites aegyptaica </text>
<text class="sp" transform="translate(196,174.95) scale(1,1.038)" text-anchor="end">Pappea capensis </text>
<text class="sp" transform="translate(196,190.77) scale(1,1.038)" text-anchor="end">Gerwia mollis</text>
<text class="sp" transform="translate(196,206.59) scale(1,1.038)" text-anchor="end">Terminalia brownii</text>
<text class="sp" transform="translate(196,222.41) scale(1,1.038)" text-anchor="end">Mimusops kummel</text>
<text class="sp" transform="translate(196,238.23) scale(1,1.038)" text-anchor="end">Euclea  racemosa</text>
<text class="sp" transform="translate(196,254.05) scale(1,1.038)" text-anchor="end">Combretum mole</text>
<text class="sp" transform="translate(196,269.87) scale(1,1.038)" text-anchor="end">Celtis africana</text>
<text class="sp" transform="translate(196,285.69) scale(1,1.038)" text-anchor="end">Maesa lanceolate</text>
<text class="sp" transform="translate(196,301.51) scale(1,1.038)" text-anchor="end">Rhus glutinosa</text>
<text class="sp" transform="translate(196,317.33) scale(1,1.038)" text-anchor="end">Milletia ferruginea</text>
<text class="sp" transform="translate(196,333.15) scale(1,1.038)" text-anchor="end">Ekebergia capensis</text>
<text class="sp" transform="translate(196,348.97) scale(1,1.038)" text-anchor="end">Bersama abyssinica</text>
<text class="sp" transform="translate(196,364.79) scale(1,1.038)" text-anchor="end">Pittosporem abysscinicum</text>
<text class="sp" transform="translate(196,380.61) scale(1,1.038)" text-anchor="end">Olinia rochetiana</text>
<text class="sp" transform="translate(196,396.43) scale(1,1.038)" text-anchor="end">Olea europeana  subs. Cuspidata</text>
<text class="sp" transform="translate(196,412.25) scale(1,1.038)" text-anchor="end">Nuxia congesta</text>
<text class="sp" transform="translate(196,428.07) scale(1,1.038)" text-anchor="end">Myrsine melanophloeos</text>
<text class="sp" transform="translate(196,443.89) scale(1,1.038)" text-anchor="end">Apodytes dimidiate</text>
<line x1="59.7" y1="272.4" x2="1497" y2="270.5" stroke="#e8141c" stroke-width="2" stroke-dasharray="3.5 2.225"/>
<text class="ti" transform="translate(15.3,250.2) rotate(-90) scale(1,1.038)" text-anchor="middle">Species</text>
<text class="ti" transform="translate(75.4,168) rotate(-90) scale(1,1.038)" text-anchor="middle">Arba Minch</text>
<text class="ti" transform="translate(59.4,317) rotate(-90) scale(1,1.038)" text-anchor="middle">Adiss Ababa</text>
<rect x="1448.8" y="5.7" width="80.6" height="50.6" fill="#fff" stroke="#c8c8c8" stroke-width="1"/>
<rect x="1451.5" y="7.4" width="28.4" height="14.2" fill="#fec896" stroke="#505050" stroke-width="1"/>
<text class="lg" transform="translate(1484.6,18.8) scale(1,1.038)">Type I</text>
<rect x="1451.5" y="23.7" width="28.4" height="14.2" fill="#9dd89d" stroke="#505050" stroke-width="1"/>
<text class="lg" transform="translate(1484.6,35.1) scale(1,1.038)">Type II</text>
<rect x="1451.5" y="40" width="28.4" height="14.2" fill="#c3b1dc" stroke="#505050" stroke-width="1"/>
<text class="lg" transform="translate(1484.6,51.4) scale(1,1.038)">Type III</text>
</svg></body></html>
